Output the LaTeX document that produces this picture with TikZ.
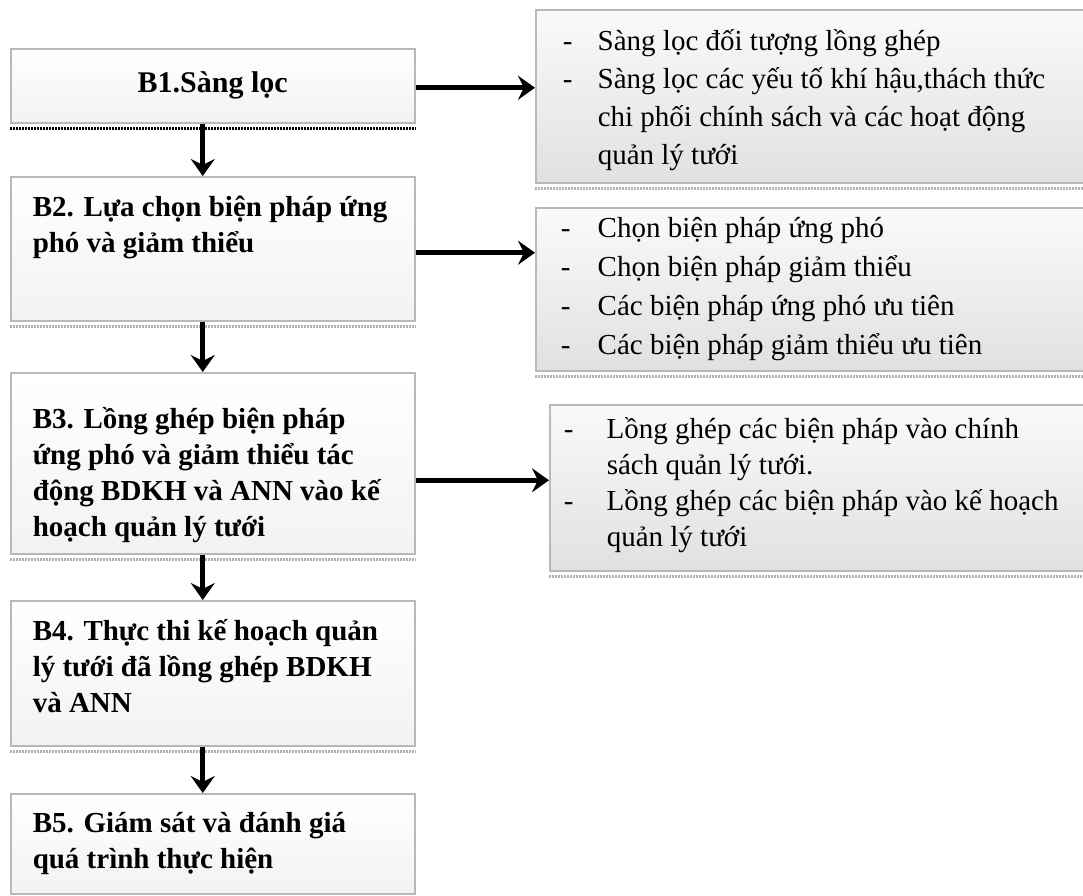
\documentclass[tikz,border=0pt]{standalone}
\usepackage{fontspec}
\setmainfont{Liberation Serif}
\usetikzlibrary{arrows.meta}

\newcommand{\gach}[1]{\makebox[#1][l]{-}}

\begin{document}
\begin{tikzpicture}[x=1pt, y=-1pt,
	bbox/.style={draw=gray!55, line width=1.5pt, top color=white, bottom color=gray!10,
		inner sep=0pt, anchor=north west, font=\fontsize{29}{36}\selectfont\bfseries},
	rbox/.style={draw=gray!55, line width=1.5pt, top color=gray!4, bottom color=gray!24,
		inner ysep=0pt, anchor=north west, font=\fontsize{29}{38}\selectfont},
	arr/.style={line width=5pt, -{Stealth[length=17pt,width=24pt,inset=6pt]}},
	shadowln/.style={gray!60, line width=2.5pt, dash pattern=on 1.5pt off 1.5pt}]

		\useasboundingbox (0,0) rectangle (1083,895);

		% Left column: steps
		\node[bbox, minimum width=404pt, minimum height=74pt, font=\fontsize{30}{36}\selectfont\bfseries] (b1) at (10,48) {B1.Sàng lọc};
		\node[bbox, inner xsep=22pt] (b2) at (10,176) {\parbox[c][144pt][t]{360pt}{\rule{0pt}{40pt}B2. Lựa chọn biện pháp ứng\\phó và giảm thiểu}};
		\node[bbox, inner xsep=22pt] (b3) at (10,372) {\parbox[c][181pt][t]{360pt}{\rule{0pt}{56pt}B3. Lồng ghép biện pháp\\ứng phó và giảm thiểu tác\\động BDKH và ANN vào kế\\hoạch quản lý tưới}};
		\node[bbox, inner xsep=22pt] (b4) at (10,600) {\parbox[c][145pt][t]{360pt}{\rule{0pt}{40pt}B4. Thực thi kế hoạch quản\\lý tưới đã lồng ghép BDKH\\và ANN}};
		\node[bbox, inner xsep=22pt] (b5) at (10,793) {\parbox[c][100pt][t]{360pt}{\rule{0pt}{39pt}B5. Giám sát và đánh giá\\quá trình thực hiện}};

		% Right column: details
		\node[rbox, inner xsep=27pt] (r1) at (535,9) {\parbox[c][173pt][t]{496pt}{\rule{0pt}{41pt}\gach{35pt}Sàng lọc đối tượng lồng ghép\par
			\hangindent=35pt\hangafter=1\gach{35pt}Sàng lọc các yếu tố khí hậu,thách thức\\chi phối chính sách và các hoạt động\\quản lý tưới}};
		\node[rbox, inner xsep=25pt] (r2) at (535,207) {\parbox[c][163pt][t]{500pt}{\fontsize{29}{39}\selectfont\rule{0pt}{30pt}\gach{37pt}Chọn biện pháp ứng phó\par
			\gach{37pt}Chọn biện pháp giảm thiểu\par
			\gach{37pt}Các biện pháp ứng phó ưu tiên\par
			\gach{37pt}Các biện pháp giảm thiểu ưu tiên}};
		\node[rbox, inner xsep=14pt] (r3) at (549,404) {\parbox[c][166pt][t]{508pt}{\fontsize{29}{36}\selectfont\rule{0pt}{34pt}\hangindent=43pt\hangafter=1\gach{43pt}Lồng ghép các biện pháp vào chính\\sách quản lý tưới.\par
			\hangindent=43pt\hangafter=1\gach{43pt}Lồng ghép các biện pháp vào kế hoạch\\quản lý tưới}};

		% Shadows
		\draw[shadowln, black] ([yshift=-5pt]b1.south west) -- ([yshift=-5pt]b1.south east);
		\foreach \n in {b2,b3,b4,r1,r2,r3}
			\draw[shadowln] ([yshift=-5pt]\n.south west) -- ([yshift=-5pt]\n.south east);

		% Arrows
		\draw[arr] ([xshift=-10pt]b1.south) -- ([xshift=-10pt]b2.north);
		\draw[arr] ([xshift=-10pt]b2.south) -- ([xshift=-10pt]b3.north);
		\draw[arr] ([xshift=-10pt]b3.south) -- ([xshift=-10pt]b4.north);
		\draw[arr] ([xshift=-10pt]b4.south) -- ([xshift=-10pt]b5.north);
		\draw[arr] ([yshift=-2pt]b1.east) -- ([yshift=-2pt]b1.east -| r1.west);
		\draw[arr] ([yshift=-4pt]b2.east) -- ([yshift=-4pt]b2.east -| r2.west);
		\draw[arr] ([yshift=-17pt]b3.east) -- ([yshift=-17pt]b3.east -| r3.west);

	\end{tikzpicture}
\end{document}
